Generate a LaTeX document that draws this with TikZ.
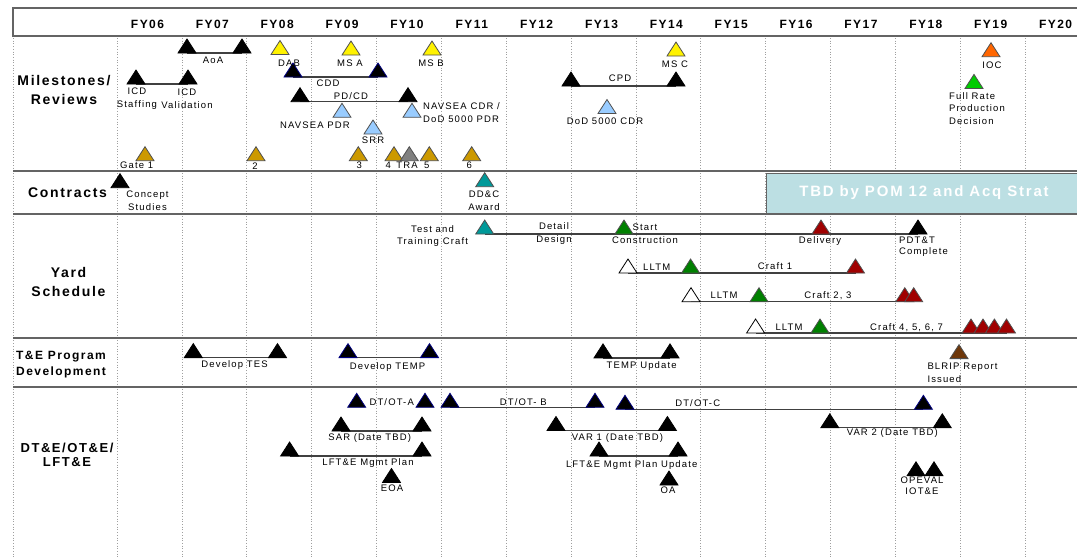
\documentclass[tikz,border=0pt]{standalone}
\usepackage{fontspec}
\setmainfont{Liberation Sans}
\newfontfamily\lsf[LetterSpace=12]{Liberation Sans}
\usetikzlibrary{calc}
\definecolor{gold}{RGB}{204,153,0}
\definecolor{ltblue}{RGB}{153,204,255}
\definecolor{teal2}{RGB}{0,153,153}
\definecolor{dgreen}{RGB}{0,128,0}
\definecolor{bgreen}{RGB}{0,204,0}
\definecolor{dred}{RGB}{160,0,0}
\definecolor{orng}{RGB}{255,102,0}
\definecolor{brwn}{RGB}{110,55,10}
\definecolor{navy2}{RGB}{0,0,128}
\definecolor{tbdfill}{RGB}{188,223,227}
\definecolor{secgray}{RGB}{100,100,100}
\definecolor{ygray}{RGB}{80,80,80}
\newcommand{\mytri}[3]{\filldraw[fill=#2,draw=#3,line width=0.8pt,line join=miter] ($(#1)+(-9,0)$) -- ($(#1)+(0,-14)$) -- ($(#1)+(9,0)$) -- cycle;}
\begin{document}
\begin{tikzpicture}[x=1pt,y=-1pt,
  gridl/.style={gray!75,dotted,line width=0.7pt},
  sect/.style={secgray,line width=2pt},
  conn/.style={black!75,line width=1.2pt},
  lab/.style={font={\lsf\fontsize{9.5}{13}\selectfont},inner sep=0pt,align=center},
  rowl/.style={font={\lsf\bfseries\fontsize{14}{19}\selectfont},inner sep=0pt,align=center},
  yr/.style={font={\lsf\bfseries\fontsize{12}{14}\selectfont},inner sep=0pt}]
\useasboundingbox (0,0) rectangle (1077,558);
\fill[white] (0,0) rectangle (1077,558);
\clip (0,0) rectangle (1077,558);
% grid
\draw[gridl] (13,38) -- (13,558);
\foreach \k in {0,...,14} \draw[gridl] ({117+64.86*\k},38) -- ({117+64.86*\k},558);
% TBD box
\node[draw=secgray,line width=1.2pt,fill=tbdfill,minimum width=320pt,minimum height=41pt,anchor=north west,inner sep=0pt] (tbd) at (766,173) {};
\node[font={\lsf\bfseries\fontsize{15}{17}\selectfont},text=white,inner sep=0pt] (tbdtext) at (924,192.5) {TBD by POM 12 and Acq Strat};
% sections
\draw[sect] (13,171) -- (1085,171);
\draw[sect] (13,214) -- (1085,214);
\draw[sect] (13,338) -- (1085,338);
\draw[sect] (13,387) -- (1085,387);
% header
\draw[secgray,line width=2pt,fill=white] (13,8) rectangle (1090,36);
\foreach \k/\y in {0/06,1/07,2/08,3/09,4/10,5/11,6/12,7/13,8/14,9/15,10/16,11/17,12/18,13/19,14/20}
  \node[yr] (fy\y) at ({147.5+64.86*\k},24) {FY\y};
% row labels
\node[rowl] (r-ms) at (64,90.3) {Milestones/\\Reviews};
\node[rowl] (r-ct) at (67.5,193) {Contracts};
\node[rowl] (r-yd) at (68.5,281.5) {Yard\\Schedule};
\node[font={\lsf\bfseries\fontsize{12}{16}\selectfont},inner sep=0pt,align=left,anchor=west] (r-te) at (16,364.5) {T\&E Program\\Development};
\node[font={\lsf\bfseries\fontsize{13}{14.5}\selectfont},inner sep=0pt,align=center] (r-dt) at (67,455) {DT\&E/OT\&E/\\LFT\&E};
% coordinates
\coordinate (aoa1) at (187,53);
\coordinate (aoa2) at (242,53);
\coordinate (icd1) at (136,84);
\coordinate (icd2) at (188,84);
\coordinate (dab) at (280,54.5);
\coordinate (msa) at (351,55);
\coordinate (msb) at (432,55);
\coordinate (msc) at (676,56);
\coordinate (cdd1) at (293,77);
\coordinate (cdd2) at (378,77);
\coordinate (pdcd1) at (300,101.7);
\coordinate (pdcd2) at (408,101.7);
\coordinate (npdr) at (342,117.3);
\coordinate (ncdr) at (412,117.3);
\coordinate (srr) at (373,134);
\coordinate (cpd1) at (571,86);
\coordinate (cpd2) at (676,86);
\coordinate (dcdr) at (607,113.5);
\coordinate (ioc) at (991,56.7);
\coordinate (frp) at (974,88.4);
\coordinate (g1) at (145,160.7);
\coordinate (g2) at (256,160.7);
\coordinate (g3) at (358.3,160.7);
\coordinate (g4) at (394,160.7);
\coordinate (tra) at (409.3,160.7);
\coordinate (g5) at (429.3,160.7);
\coordinate (g6) at (471.7,160.7);
\coordinate (cs) at (120,187.7);
\coordinate (ddc) at (484.7,186.7);
\coordinate (ttc) at (484.7,234);
\coordinate (sc) at (624,234);
\coordinate (dlv) at (821,234);
\coordinate (pdtt) at (918,234);
\coordinate (l1) at (628,273);
\coordinate (c1g) at (690.6,273);
\coordinate (c1r) at (855.5,273);
\coordinate (l2) at (691,301.7);
\coordinate (c2g) at (759,301.7);
\coordinate (c2a) at (904.8,301.7);
\coordinate (c2b) at (913.7,301.7);
\coordinate (l3) at (755.6,333);
\coordinate (c3g) at (820,333);
\coordinate (c3a) at (971,333);
\coordinate (c3b) at (983,333);
\coordinate (c3c) at (994.4,333);
\coordinate (c3d) at (1006.5,333);
\coordinate (tes1) at (193.3,357.6);
\coordinate (tes2) at (277.5,357.6);
\coordinate (tmp1) at (348,357.6);
\coordinate (tmp2) at (429.5,357.6);
\coordinate (tmu1) at (603,357.9);
\coordinate (tmu2) at (670,357.9);
\coordinate (blr) at (959,358.6);
\coordinate (da1) at (356.7,407.3);
\coordinate (da2) at (425,407.3);
\coordinate (db1) at (450,407.3);
\coordinate (db2) at (595,407.3);
\coordinate (dc1) at (625,409.3);
\coordinate (dc2) at (923.4,409.3);
\coordinate (sar1) at (341,431);
\coordinate (sar2) at (422,431);
\coordinate (lf1) at (289.6,456);
\coordinate (lf2) at (422,456);
\coordinate (eoa) at (391.5,482.5);
\coordinate (v1a) at (556,430.5);
\coordinate (v1b) at (667.4,430.5);
\coordinate (lu1) at (599,456);
\coordinate (lu2) at (678,456);
\coordinate (oa) at (669,485);
\coordinate (v2a) at (829.8,427.8);
\coordinate (v2b) at (942.3,427.8);
\coordinate (op1) at (916,475.8);
\coordinate (op2) at (934,475.8);
% connectors
\draw[conn] (aoa1) -- (aoa2);
\draw[conn] (icd1) -- (icd2);
\draw[conn] (cdd1) -- (cdd2);
\draw[conn] (pdcd1) -- (pdcd2);
\draw[conn] (cpd1) -- (cpd2);
\draw[conn] (ttc) -- (pdtt);
\draw[conn] (l1) -- (c1r);
\draw[conn] (l2) -- (c2b);
\draw[conn] (l3) -- (c3d);
\draw[conn] (tes1) -- (tes2);
\draw[conn] (tmp1) -- (tmp2);
\draw[conn] (tmu1) -- (tmu2);
\draw[conn] (db1) -- (db2);
\draw[conn] (dc1) -- (dc2);
\draw[conn] (sar1) -- (sar2);
\draw[conn] (lf1) -- (lf2);
\draw[conn] (v1a) -- (v1b);
\draw[conn] (lu1) -- (lu2);
\draw[conn] (v2a) -- (v2b);
% triangles
\mytri{aoa1}{black}{black}\mytri{aoa2}{black}{black}
\mytri{icd1}{black}{black}\mytri{icd2}{black}{black}
\mytri{dab}{yellow}{ygray}\mytri{msa}{yellow}{ygray}\mytri{msb}{yellow}{ygray}\mytri{msc}{yellow}{ygray}
\mytri{cdd1}{black}{navy2}\mytri{cdd2}{black}{navy2}
\mytri{pdcd1}{black}{black}\mytri{pdcd2}{black}{black}
\mytri{npdr}{ltblue}{ygray}\mytri{ncdr}{ltblue}{ygray}\mytri{srr}{ltblue}{ygray}
\mytri{cpd1}{black}{black}\mytri{cpd2}{black}{black}
\mytri{dcdr}{ltblue}{ygray}
\mytri{ioc}{orng}{ygray}\mytri{frp}{bgreen}{ygray}
\mytri{g1}{gold}{ygray}\mytri{g2}{gold}{ygray}\mytri{g3}{gold}{ygray}\mytri{g4}{gold}{ygray}
\mytri{tra}{gray}{ygray}\mytri{g5}{gold}{ygray}\mytri{g6}{gold}{ygray}
\mytri{cs}{black}{black}\mytri{ddc}{teal2}{ygray}
\mytri{ttc}{teal2}{ygray}\mytri{sc}{dgreen}{ygray}\mytri{dlv}{dred}{ygray}\mytri{pdtt}{black}{black}
\mytri{l1}{white}{black}\mytri{c1g}{dgreen}{ygray}\mytri{c1r}{dred}{ygray}
\mytri{l2}{white}{black}\mytri{c2g}{dgreen}{ygray}\mytri{c2a}{dred}{ygray}\mytri{c2b}{dred}{ygray}
\mytri{l3}{white}{black}\mytri{c3g}{dgreen}{ygray}\mytri{c3a}{dred}{ygray}\mytri{c3b}{dred}{ygray}\mytri{c3c}{dred}{ygray}\mytri{c3d}{dred}{ygray}
\mytri{tes1}{black}{black}\mytri{tes2}{black}{black}
\mytri{tmp1}{black}{navy2}\mytri{tmp2}{black}{navy2}
\mytri{tmu1}{black}{black}\mytri{tmu2}{black}{black}
\mytri{blr}{brwn}{ygray}
\mytri{da1}{black}{navy2}\mytri{da2}{black}{navy2}
\mytri{db1}{black}{navy2}\mytri{db2}{black}{navy2}
\mytri{dc1}{black}{navy2}\mytri{dc2}{black}{navy2}
\mytri{sar1}{black}{black}\mytri{sar2}{black}{black}
\mytri{lf1}{black}{black}\mytri{lf2}{black}{black}
\mytri{eoa}{black}{black}
\mytri{v1a}{black}{black}\mytri{v1b}{black}{black}
\mytri{lu1}{black}{black}\mytri{lu2}{black}{black}
\mytri{oa}{black}{black}
\mytri{v2a}{black}{black}\mytri{v2b}{black}{black}
\mytri{op1}{black}{black}\mytri{op2}{black}{black}
% labels: milestones
\node[lab] (t-aoa) at (213,60) {AoA};
\node[lab] (t-icd1) at (137,99) {ICD\\Staffing};
\node[lab] (t-icd2) at (187,99) {ICD\\Validation};
\node[lab] (t-dab) at (289,63) {DAB};
\node[lab] (t-msa) at (350,63) {MS A};
\node[lab] (t-msb) at (431,63) {MS B};
\node[lab] (t-msc) at (675,64.5) {MS C};
\node[lab] (t-cdd) at (328,83.3) {CDD};
\node[lab] (t-pdcd) at (351,95.7) {PD/CD};
\node[lab] (t-npdr) at (315,125) {NAVSEA PDR};
\node[lab,anchor=west,align=left] (t-ncdr) at (423,113) {NAVSEA CDR /\\DoD 5000 PDR};
\node[lab] (t-srr) at (373,140.5) {SRR};
\node[lab] (t-cpd) at (620,78) {CPD};
\node[lab] (t-dcdr) at (605,121) {DoD 5000 CDR};
\node[lab] (t-ioc) at (992,65) {IOC};
\node[lab,anchor=west,align=left,font={\lsf\fontsize{9.5}{12.6}\selectfont}] (t-frp) at (949,108.5) {Full Rate\\Production\\Decision};
\node[lab] (t-g1) at (136.7,165.7) {Gate 1};
\node[lab] (t-g2) at (255,165.7) {2};
\node[lab] (t-g3) at (359.3,165.7) {3};
\node[lab] (t-g4) at (388.3,165.7) {4};
\node[lab] (t-tra) at (407,165.7) {TRA};
\node[lab] (t-g5) at (426.7,165.7) {5};
\node[lab] (t-g6) at (469.3,165.7) {6};
% contracts
\node[lab] (t-cs) at (147.5,200.7) {Concept\\Studies};
\node[lab] (t-ddc) at (484,200.4) {DD\&C\\Award};
% yard
\node[lab,font={\lsf\fontsize{9.5}{12.3}\selectfont}] (t-ttc) at (432.5,235.7) {Test and\\Training Craft};
\node[lab] (t-dd) at (554,233.8) {Detail\\Design};
\node[lab] (t-sc) at (645,233.8) {Start\\Construction};
\node[lab] (t-dlv) at (820,241.5) {Delivery};
\node[lab,anchor=west,align=left,font={\lsf\fontsize{9.5}{10.5}\selectfont}] (t-pdtt) at (899,246.5) {PDT\&T\\Complete};
\node[lab] (t-l1) at (656.7,267) {LLTM};
\node[lab] (t-c1) at (775,266) {Craft 1};
\node[lab] (t-l2) at (724,295) {LLTM};
\node[lab] (t-c2) at (828,296) {Craft 2, 3};
\node[lab] (t-l3) at (789,327.4) {LLTM};
\node[lab] (t-c3) at (906.6,327.4) {Craft 4, 5, 6, 7};
% T&E
\node[lab] (t-tes) at (234.6,365) {Develop TES};
\node[lab] (t-tmp) at (387.6,366.7) {Develop TEMP};
\node[lab] (t-tmu) at (641.7,366.4) {TEMP Update};
\node[lab,anchor=west,align=left,font={\lsf\fontsize{9.5}{13.4}\selectfont}] (t-blr) at (927.3,373) {BLRIP Report\\Issued};
% DT&E
\node[lab] (t-da) at (391.7,401.7) {DT/OT-A};
\node[lab] (t-db) at (523.3,401.7) {DT/OT- B};
\node[lab] (t-dc) at (697.7,403) {DT/OT-C};
\node[lab] (t-sar) at (369.7,438.4) {SAR (Date TBD)};
\node[lab] (t-lf) at (368,463) {LFT\&E Mgmt Plan};
\node[lab] (t-eoa) at (392,488.5) {EOA};
\node[lab] (t-v1) at (617.4,438) {VAR 1 (Date TBD)};
\node[lab] (t-lu) at (631.7,465.5) {LFT\&E Mgmt Plan Update};
\node[lab] (t-oa) at (668,490.5) {OA};
\node[lab] (t-v2) at (892.3,433) {VAR 2 (Date TBD)};
\node[lab,font={\lsf\fontsize{9.5}{11}\selectfont}] (t-op) at (922,485.6) {OPEVAL\\IOT\&E};
\end{tikzpicture}
\end{document}
